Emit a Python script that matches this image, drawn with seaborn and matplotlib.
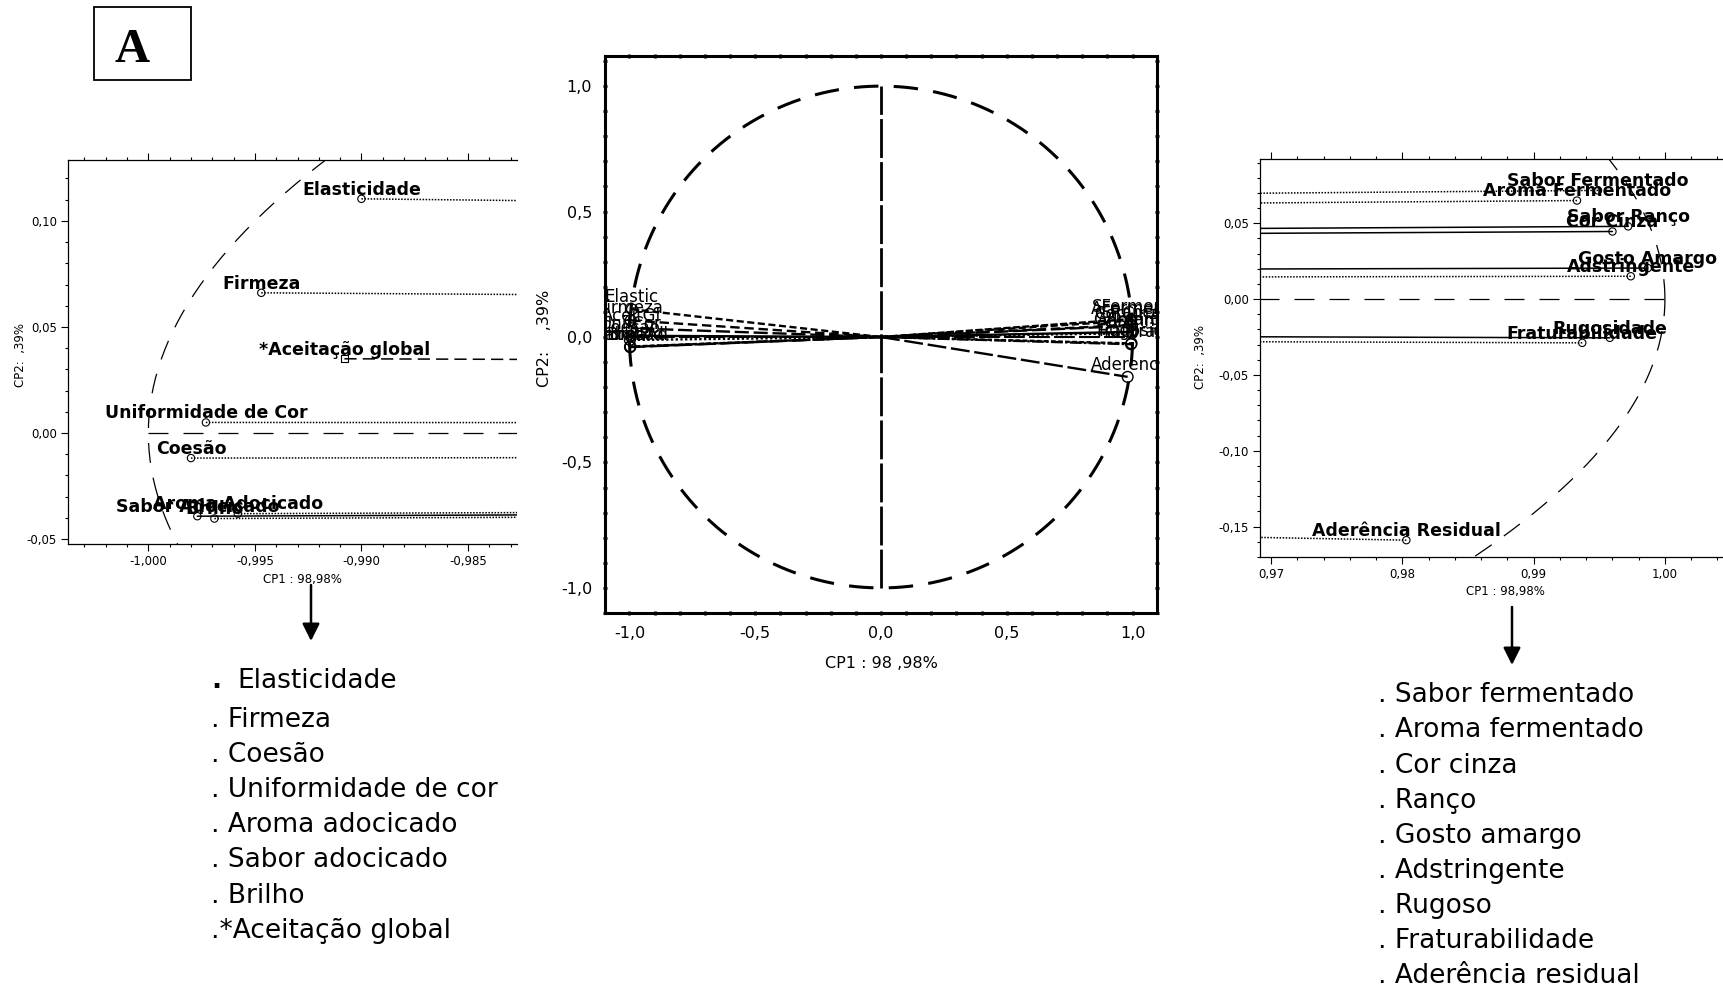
import numpy as np
import seaborn as sns
import matplotlib.pyplot as plt
from matplotlib.patches import Rectangle
from matplotlib.ticker import MultipleLocator

W, H = 1724, 989

# CP1 < 0 group (left zoom)
left_vars = ["Elasticidade", "Firmeza", "*Aceitação global", "Uniformidade de Cor",
             "Coesão", "Aroma Adocicado", "Sabor Adocicado", "Brilho"]
left_short = ["Elastic", "Firmeza", "AceitGl", "UnifCor", "Coesao", "AromaAd", "SaborAd", "Brilho"]
left_cp1 = [-0.9900, -0.9947, -0.9908, -0.9973, -0.9980, -0.9958, -0.9977, -0.9969]
left_cp2 = [0.1104, 0.0661, 0.0350, 0.0050, -0.0118, -0.0380, -0.0392, -0.0403]

# CP1 > 0 group (right zoom)
right_vars = ["Sabor Fermentado", "Aroma Fermentado", "Sabor Ranço", "Cor Cinza", "Gosto Amargo",
              "Adstringente", "Rugosidade", "Fraturabilidade", "Aderência Residual"]
right_short = ["SFerment", "AFerment", "SRanco", "CorCinza", "GAmargo",
               "Adstring", "Rugosid", "Fraturab", "Aderenci"]
right_cp1 = [0.9949, 0.9933, 0.9972, 0.9960, 0.9987, 0.9974, 0.9958, 0.9937, 0.9803]
right_cp2 = [0.0717, 0.0650, 0.0480, 0.0446, 0.0205, 0.0151, -0.0255, -0.0288, -0.1589]

left_list = ["Elasticidade", "Firmeza", "Coesão", "Uniformidade de cor", "Aroma adocicado",
             "Sabor adocicado", "Brilho", "*Aceitação global"]
right_list = ["Sabor fermentado", "Aroma fermentado", "Cor cinza", "Ranço", "Gosto amargo",
              "Adstringente", "Rugoso", "Fraturabilidade", "Aderência residual"]

center_ticks = [-1.0, -0.5, 0.0, 0.5, 1.0]
center_ticklabels = ["-1,0", "-0,5", "0,0", "0,5", "1,0"]
left_xticks = [-1.000, -0.995, -0.990, -0.985]
left_xticklabels = ["-1,000", "-0,995", "-0,990", "-0,985"]
left_yticks = [-0.05, 0.00, 0.05, 0.10]
left_yticklabels = ["-0,05", "0,00", "0,05", "0,10"]
right_xticks = [0.97, 0.98, 0.99, 1.00]
right_xticklabels = ["0,97", "0,98", "0,99", "1,00"]
right_yticks = [-0.15, -0.10, -0.05, 0.00, 0.05]
right_yticklabels = ["-0,15", "-0,10", "-0,05", "0,00", "0,05"]

sns.set_style("ticks", {"axes.edgecolor": "black", "xtick.color": "black",
                        "ytick.color": "black", "text.color": "black",
                        "axes.labelcolor": "black"})
plt.rcParams["font.family"] = ["DejaVu Sans"]


def px_rect(l, t, r, b):
    return [l / W, 1 - b / H, (r - l) / W, (b - t) / H]


def circle(ax, **kw):
    th = np.linspace(0, 2 * np.pi, 1441)
    ax.plot(np.cos(th), np.sin(th), color="black", **kw)


def zoom_panel(ax, names, cp1, cp2, styles, marks):
    circle(ax, lw=0.9, linestyle=(0, (16, 12)))
    ax.plot([-1, 1], [0, 0], color="black", lw=0.9, linestyle=(0, (16, 12)))
    for x, y, ls in zip(cp1, cp2, styles):
        ax.plot([x, 0], [y, 0], color="black", lw=1.1, linestyle=ls)
    for m in set(marks):
        idx = [i for i, mm in enumerate(marks) if mm == m]
        sns.scatterplot(x=[cp1[i] for i in idx], y=[cp2[i] for i in idx], ax=ax,
                        marker=m, s=28, facecolors="none", edgecolor="black",
                        linewidth=0.8, zorder=3)
    for n, x, y in zip(names, cp1, cp2):
        ax.annotate(n, (x, y), xytext=(0, 3), textcoords="offset points",
                    ha="center", va="baseline", fontsize=12.5, fontweight="bold")
    ax.spines["right"].set_visible(False)
    ax.tick_params(which="both", direction="out", top=True, right=False, width=0.8,
                   labelsize=8.5, pad=3)
    ax.tick_params(which="major", length=5)
    ax.tick_params(which="minor", length=2.5)
    for s in ["left", "top", "bottom"]:
        ax.spines[s].set_linewidth(0.9)


fig = plt.figure(figsize=(W / 100, H / 100), dpi=100)

# ---- left zoom ----
axL = fig.add_axes(px_rect(68, 160, 517, 544))
zoom_panel(axL, left_vars, left_cp1, left_cp2,
           [(0, (1, 1)), (0, (1, 1)), (0, (8, 4)), (0, (1, 1)), (0, (1, 1)),
            (0, (1, 1)), "-", (0, (1, 1))],
           ["o", "o", "s", "o", "o", "o", "o", "o"])
axL.set_xlim(-1.00377, -0.9827)
axL.set_ylim(-0.0523, 0.1287)
axL.set_xticks(left_xticks, left_xticklabels)
axL.set_yticks(left_yticks, left_yticklabels)
axL.xaxis.set_minor_locator(MultipleLocator(0.001))
axL.yaxis.set_minor_locator(MultipleLocator(0.01))
axL.set_xlabel("CP1 : 98,98%", fontsize=8.5)
axL.set_ylabel("CP2:  ,39%", fontsize=8.5)
axL.xaxis.set_label_coords(302 / W, 1 - 573 / H, transform=fig.transFigure)
axL.yaxis.set_label_coords(27 / W, 1 - 355 / H, transform=fig.transFigure)

# ---- full circle ----
axC = fig.add_axes(px_rect(605, 56, 1157, 613))
circle(axC, lw=2.2, linestyle=(0, (8, 5)))
axC.plot([0, 0], [-1, 1], color="black", lw=2, linestyle=(0, (14, 1.5)))
axC.plot([-1, 1], [0, 0], color="black", lw=1.5, linestyle=(0, (10, 2)))
c_styles = [(0, (3, 1.5)), (0, (4, 2)), (0, (6, 2)), "-", (0, (1, 1)), (0, (2, 1)),
            (0, (5, 1, 1, 1)), (0, (8, 2)), (0, (3, 1))]
all_short = left_short + right_short
all_cp1 = left_cp1 + right_cp1
all_cp2 = left_cp2 + right_cp2
for i, (x, y) in enumerate(zip(all_cp1, all_cp2)):
    axC.plot([0, x], [0, y], color="black", lw=1.7, linestyle=c_styles[i % len(c_styles)])
sns.scatterplot(x=all_cp1, y=all_cp2, ax=axC, marker="o", s=60, facecolors="none",
                edgecolor="black", linewidth=1.0, zorder=3)
for n, x, y in zip(all_short, all_cp1, all_cp2):
    axC.annotate(n, (x, y), xytext=(0, 5), textcoords="offset points", ha="center",
                 va="baseline", fontsize=12, clip_on=True)
axC.set_xlim(-1.097, 1.097)
axC.set_ylim(-1.1, 1.12)
axC.set_xticks(center_ticks, center_ticklabels)
axC.set_yticks(center_ticks, center_ticklabels)
axC.xaxis.set_minor_locator(MultipleLocator(0.1))
axC.yaxis.set_minor_locator(MultipleLocator(0.1))
axC.tick_params(which="both", direction="inout", top=True, right=True, width=2,
                length=3.5, labelsize=11.5, pad=7.5)
for s in axC.spines.values():
    s.set_linewidth(2.2)
axC.set_xlabel("CP1 : 98 ,98%", fontsize=11.5)
axC.set_ylabel("CP2:    ,39%", fontsize=11.5)
axC.xaxis.set_label_coords(881 / W, 1 - 656 / H, transform=fig.transFigure)
axC.yaxis.set_label_coords(552 / W, 1 - 338 / H, transform=fig.transFigure)

# ---- right zoom ----
axR = fig.add_axes(px_rect(1260, 159, 1724, 557))
zoom_panel(axR, right_vars, right_cp1, right_cp2,
           [(0, (1, 1)), (0, (1, 1)), "-", "-", "-", (0, (1, 1)), "-", (0, (1, 1)), (0, (1, 1))],
           ["o"] * len(right_vars))
axR.set_xlim(0.96915, 1.0045)
axR.set_ylim(-0.170, 0.0924)
axR.set_xticks(right_xticks, right_xticklabels)
axR.set_yticks(right_yticks, right_yticklabels)
axR.xaxis.set_minor_locator(MultipleLocator(0.002))
axR.yaxis.set_minor_locator(MultipleLocator(0.01))
axR.set_xlabel("CP1 : 98,98%", fontsize=8.5)
axR.set_ylabel("CP2:  ,39%", fontsize=8.5)
axR.xaxis.set_label_coords(1505 / W, 1 - 585 / H, transform=fig.transFigure)
axR.yaxis.set_label_coords(1207 / W, 1 - 357 / H, transform=fig.transFigure)

# ---- panel tag ----
fig.add_artist(Rectangle((94 / W, 1 - 80 / H), (191 - 94) / W, (80 - 7) / H,
                         transform=fig.transFigure, fill=False, lw=1.3, ec="black"))
fig.text(132 / W, 1 - 62 / H, "A", fontsize=35, fontweight="bold",
         family="Liberation Serif", ha="center", va="baseline")

# ---- arrows ----
for x, y0, y1 in [(311, 585, 641), (1512, 607, 665)]:
    fig.add_artist(plt.Annotation("", xy=(x, H - y1), xytext=(x, H - y0),
                                  xycoords="figure pixels", textcoords="figure pixels",
                                  arrowprops=dict(arrowstyle="-|>", lw=1.8, color="black",
                                                  mutation_scale=26, shrinkA=0, shrinkB=0)))

# ---- variable lists ----
left_base = [688, 727, 762, 797, 832, 867, 903, 938]
for i, (t, yb) in enumerate(zip(left_list, left_base)):
    if i == 0:
        fig.text(211 / W, 1 - yb / H, ".", fontsize=19, fontweight="bold", va="baseline")
        fig.text(237 / W, 1 - yb / H, t, fontsize=19, va="baseline")
    elif t.startswith("*"):
        fig.text(211 / W, 1 - yb / H, "." + t, fontsize=19, va="baseline")
    else:
        fig.text(211 / W, 1 - yb / H, ". " + t, fontsize=19, va="baseline")

right_base = [702, 737, 773, 808, 843, 878, 913, 948, 983]
for t, yb in zip(right_list, right_base):
    fig.text(1378 / W, 1 - yb / H, ". " + t, fontsize=19, va="baseline")

fig.savefig("out.png", dpi=100)
